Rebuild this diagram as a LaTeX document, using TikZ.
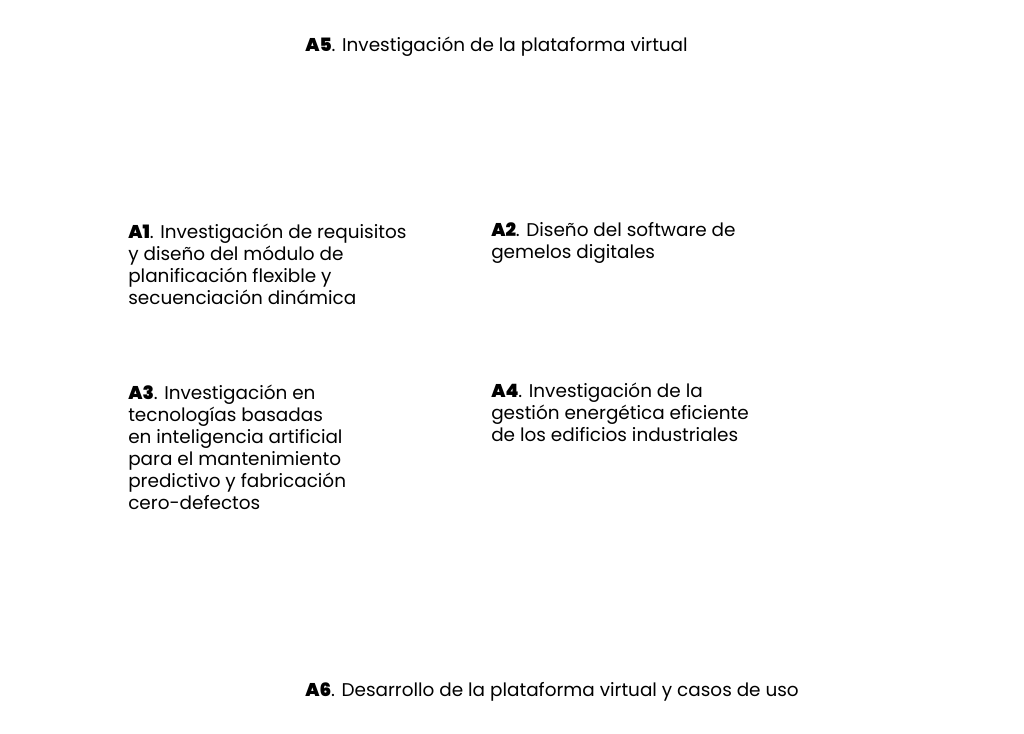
\documentclass[tikz,border=0pt]{standalone}
\usepackage{fontspec}
\setmainfont{Poppins}[BoldFont={Poppins Black}]
\usepackage{tikz}

\begin{document}
\begin{tikzpicture}[x=0.025cm,y=-0.025cm,
  task node/.style={anchor=base west,inner sep=0pt,align=left,font=\fontsize{13.1pt}{15.6pt}\selectfont}]

    \useasboundingbox[fill=white] (0, 0) rectangle (1024, 733);

    \node[task node] (a5) at (305, 51) {\textbf{A5}. Investigación de la plataforma virtual};

    \node[task node] (a1) at (128, 304) {\textbf{A1}. Investigación de requisitos\\y diseño del módulo de\\planificación flexible y\\secuenciación dinámica};
    \node[task node] (a2) at (491, 258) {\textbf{A2}. Diseño del software de\\gemelos digitales};

    \node[task node] (a3) at (128, 509) {\textbf{A3}. Investigación en\\tecnologías basadas\\en inteligencia artificial\\para el mantenimiento\\predictivo y fabricación\\cero-defectos};
    \node[task node] (a4) at (491, 441) {\textbf{A4}. Investigación de la\\gestión energética eficiente\\de los edificios industriales};

    \node[task node] (a6) at (305, 696) {\textbf{A6}. Desarrollo de la plataforma virtual y casos de uso};

\end{tikzpicture}
\end{document}
